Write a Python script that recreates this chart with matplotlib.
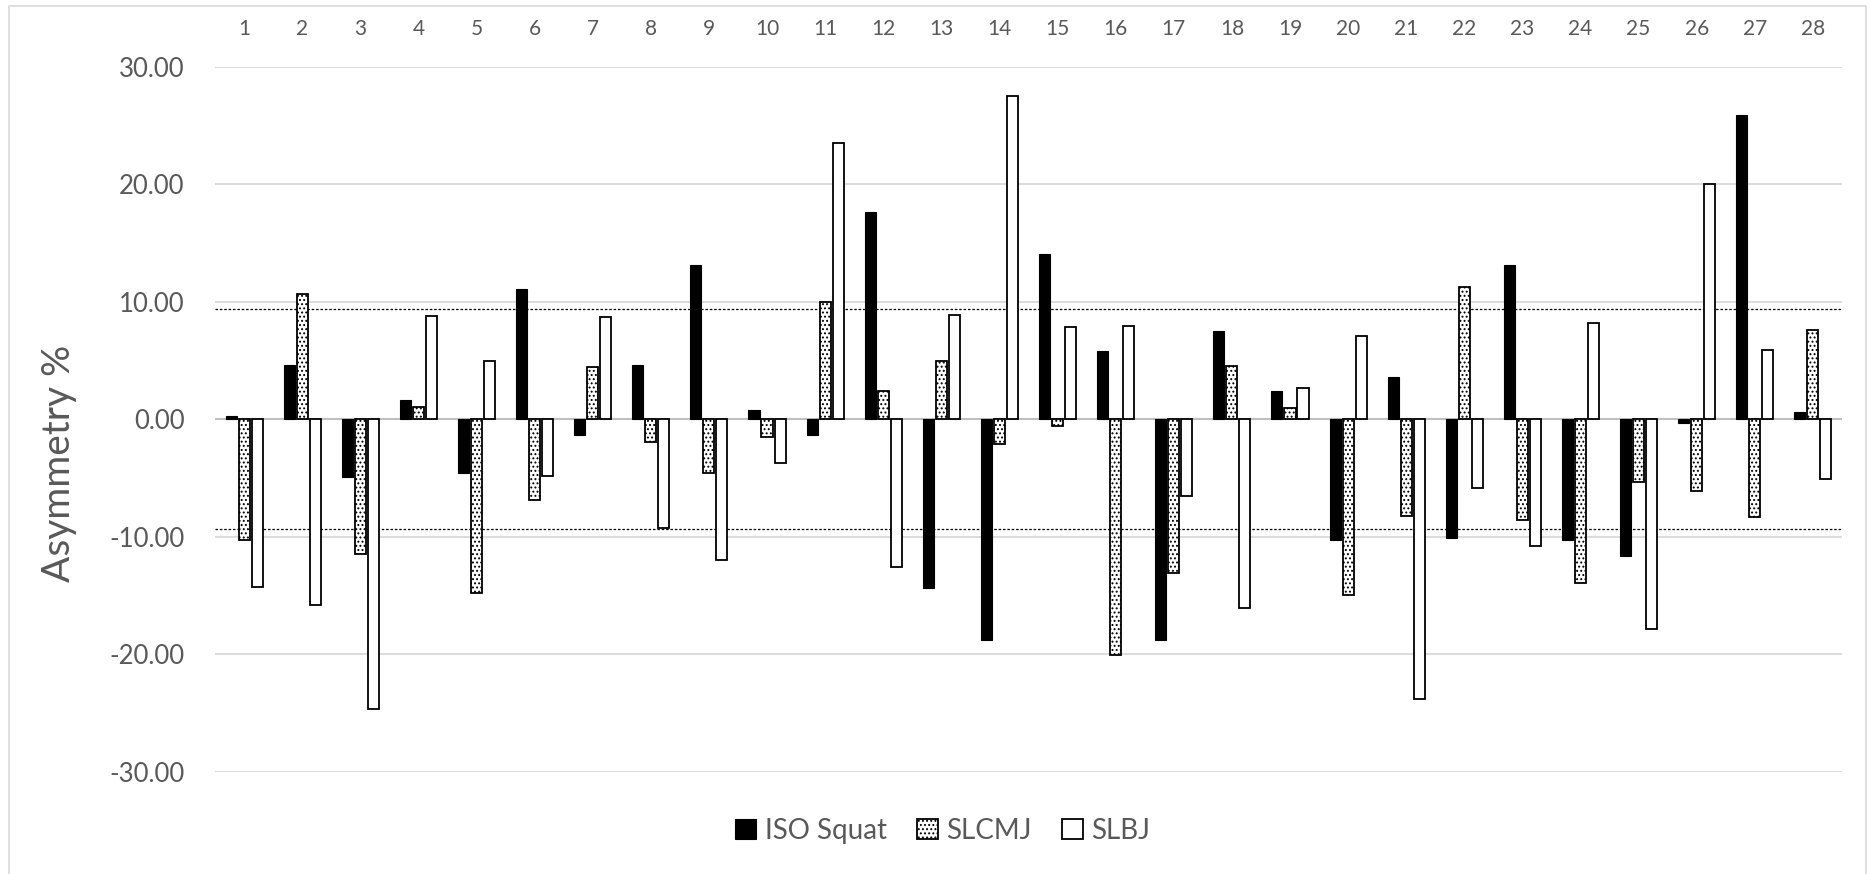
import matplotlib
matplotlib.use("Agg")
import matplotlib.pyplot as plt
import numpy as np
from matplotlib.patches import Rectangle, Patch

plt.rcParams['font.family'] = ['Lato', 'DejaVu Sans']
plt.rcParams['hatch.linewidth'] = 0.9

categories = [str(i) for i in range(1, 29)]
iso_squat = [0.31, 4.65, -4.94, 1.64, -4.55, 11.08, -1.36, 4.65, 13.17, 0.82,
             -1.36, 17.68, -14.37, -18.75, 14.05, 5.81, -18.75, 7.48, 2.38, -10.26,
             3.63, -10.11, 13.17, -10.23, -11.59, -0.34, 25.86, 0.59]
slcmj = [-10.28, 10.70, -11.42, 1.02, -14.77, -6.88, 4.48, -1.90, -4.55, -1.48,
         10.00, 2.38, 4.99, -2.07, -0.54, -20.06, -13.04, 4.50, 0.99, -14.97,
         -8.24, 11.27, -8.52, -13.95, -5.37, -6.08, -8.32, 7.59]
slbj = [-14.26, -15.82, -24.66, 8.78, 4.99, -4.86, 8.73, -9.23, -11.93, -3.69,
        23.54, -12.56, 8.90, 27.54, 7.88, 7.93, -6.50, -16.05, 2.69, 7.05,
        -23.83, -5.82, -10.77, 8.19, -17.84, 20.03, 5.92, -5.09]
threshold = 9.35
series_names = ["ISO Squat", "SLCMJ", "SLBJ"]
y_ticks = [-30, -20, -10, 0, 10, 20, 30]

W, H = 1870, 874
fig = plt.figure(figsize=(W / 100, H / 100), dpi=100)
ax = fig.add_axes([215 / W, 1 - 772 / H, (1842 - 215) / W, (772 - 66.7) / H])

x = np.arange(len(categories))
pitch = 0.224
bw = 0.19
grey_txt = '#595959'

ax.bar(x - pitch, iso_squat, width=bw, color='black', edgecolor='black', linewidth=0.8, zorder=3)
ax.bar(x, slcmj, width=bw, color='white', edgecolor='black', linewidth=1.3, hatch='....', zorder=3)
ax.bar(x + pitch, slbj, width=bw, color='white', edgecolor='black', linewidth=1.3, zorder=3)

ax.set_xlim(-0.5, len(categories) - 0.5)
ax.set_ylim(-30, 30)
ax.set_yticks(y_ticks)
ax.set_yticklabels([f"{v:.2f}" for v in y_ticks])
ax.yaxis.grid(True, color='#D9D9D9', linewidth=1.3, zorder=0)
ax.set_axisbelow(True)
ax.axhline(0, color='#BFBFBF', linewidth=1.5, zorder=2)
ax.axhline(threshold, color='black', linewidth=0.9, linestyle=(0, (2, 1.5)), zorder=2)
ax.axhline(-threshold, color='black', linewidth=0.9, linestyle=(0, (2, 1.5)), zorder=2)

ax.set_xticks(x)
ax.set_xticklabels(categories)
ax.xaxis.tick_top()
ax.tick_params(axis='x', length=0, pad=20, labelsize=15, labelcolor=grey_txt)
ax.tick_params(axis='y', length=0, pad=22, labelsize=18.5, labelcolor=grey_txt)
for s in ax.spines.values():
    s.set_visible(False)

fig.text(59 / W, 1 - 463 / H, "Asymmetry %", rotation=90, ha='center', va='center',
         fontsize=28, color=grey_txt)

handles = [Patch(facecolor='black', edgecolor='black', linewidth=0.8),
           Patch(facecolor='white', edgecolor='black', linewidth=1.3, hatch='....'),
           Patch(facecolor='white', edgecolor='black', linewidth=1.3)]
leg = fig.legend(handles, series_names, loc='center', bbox_to_anchor=(943 / W, 1 - 831 / H),
                 ncol=3, frameon=False, fontsize=20, handlelength=0.75, handleheight=0.75,
                 handletextpad=0.3, columnspacing=1.1)
for t in leg.get_texts():
    t.set_color(grey_txt)

fig.patches.append(Rectangle((9 / W, -0.05), (1866 - 9) / W, 1.05 - 6 / H, transform=fig.transFigure,
                             fill=False, edgecolor='#D9D9D9', linewidth=1.2))

fig.savefig("out.png", dpi=100)
